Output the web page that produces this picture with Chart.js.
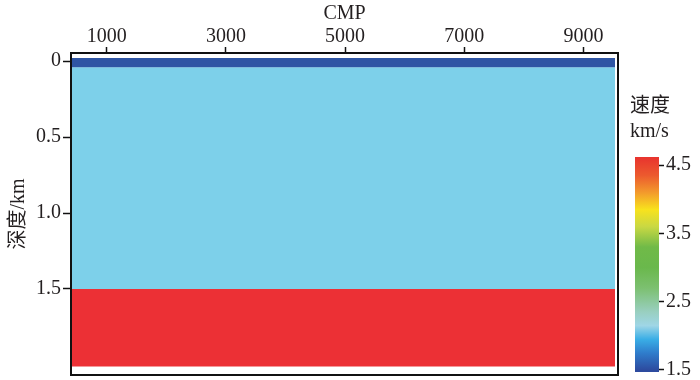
<!DOCTYPE html>
<html>
<head>
<meta charset="utf-8">
<script src="https://cdn.jsdelivr.net/npm/chart.js@4/dist/chart.umd.min.js"></script>
<style>
  html, body { margin: 0; padding: 0; background: #ffffff; }
  body { width: 700px; height: 380px; position: relative; overflow: hidden; }
  #mainBox { position: absolute; left: 0; top: 0; width: 630px; height: 380px; }
  #barBox { position: absolute; left: 630px; top: 88px; width: 70px; height: 292px; }
</style>
</head>
<body>
<div id="mainBox"><canvas id="main"></canvas></div>
<div id="barBox"><canvas id="cbar"></canvas></div>
<script>
// ---------------- data ----------------
const cmpTicks = [1000, 3000, 5000, 7000, 9000];
const cmpTickLabels = ['1000', '3000', '5000', '7000', '9000'];
const cmpModelExtent = [400, 9530];            // CMP range covered by the model
const layerBoundaries = [-0.02, 0.04, 1.5, 2.01]; // depth (km) of layer tops / last bottom
const layerVelocities = [1.6, 2.2, 4.6];         // km/s for each layer
const depthTicks = [0, 0.5, 1.0, 1.5];
const depthTickLabels = ['0', '0.5', '1.0', '1.5'];
const velocityTicks = [1.5, 2.5, 3.5, 4.5];
const velocityTickLabels = ['1.5', '2.5', '3.5', '4.5'];
const colorbarRange = [1.47, 4.62];
const colormapValues = [1.5, 1.75, 1.95, 2.15, 2.35, 2.7, 3.0, 3.3, 3.6, 3.85, 4.1, 4.35, 4.62];

// ---------------- styles ----------------
const colormapColors = ['#2d4b9f', '#2f7dcc', '#3aaee6', '#9fd6e6', '#99cfc0', '#7cc070', '#6ab84c',
                        '#70ba48', '#c9d843', '#f8e21d', '#f39a2c', '#ec5a2e', '#e8332e'];
const layerColors = ['#2f55a4', '#7dd0ea', '#ec3035'];
const FONT = "'Liberation Serif', 'Noto Sans CJK SC', serif";
const TEXT = '#231f20';

const framePlugin = {
  id: 'frame',
  afterDatasetsDraw(chart) {
    const a = chart.chartArea, c = chart.ctx;
    c.save();
    c.strokeStyle = '#111';
    c.lineWidth = 2;
    c.strokeRect(a.left, a.top, a.right - a.left, a.bottom - a.top);
    c.restore();
  }
};

function zeroPad(s) { s.paddingTop = 0; s.paddingBottom = 0; s.paddingLeft = 0; s.paddingRight = 0; }

// ---------------- main section chart ----------------
const datasets = layerBoundaries.map((b, i) => ({
  data: [{x: cmpModelExtent[0], y: b}, {x: cmpModelExtent[1], y: b}],
  fill: i < layerVelocities.length ? '+1' : false,
  backgroundColor: layerColors[i] || 'transparent',
  borderWidth: 0,
  pointRadius: 0
}));

new Chart(document.getElementById('main'), {
  type: 'line',
  data: { datasets },
  options: {
    responsive: true,
    maintainAspectRatio: false,
    animation: false,
    layout: { padding: { left: 0, top: 0, right: 12, bottom: 5 } },
    plugins: { legend: { display: false }, tooltip: { enabled: false } },
    scales: {
      x: {
        type: 'linear',
        position: 'top',
        min: 400, max: 9580,
        afterBuildTicks: s => { s.ticks = cmpTicks.map(v => ({ value: v })); },
        ticks: { font: { family: FONT, size: 20 }, color: TEXT, padding: -2, maxRotation: 0,
                 callback: (v, i) => cmpTickLabels[i] },
        grid: { drawOnChartArea: false, tickLength: 6, color: '#111', tickWidth: 1.5 },
        border: { display: false },
        title: { display: true, text: 'CMP', font: { family: FONT, size: 20 }, color: TEXT, padding: { top: 2, bottom: 0 } },
        afterFit: s => { s.height = 53; zeroPad(s); }
      },
      y: {
        type: 'linear',
        reverse: true,
        min: -0.053, max: 2.066,
        afterBuildTicks: s => { s.ticks = depthTicks.map(v => ({ value: v })); },
        ticks: {
          font: { family: FONT, size: 20 }, color: TEXT, padding: 2,
          callback: (v, i) => depthTickLabels[i]
        },
        grid: { drawOnChartArea: false, tickLength: 8, color: '#111', tickWidth: 1.5 },
        border: { display: false },
        title: { display: true, text: '深度/km', font: { family: FONT, size: 20 }, color: TEXT, padding: { top: 7, bottom: 0 } },
        afterFit: s => { s.width = 71; zeroPad(s); }
      }
    }
  },
  plugins: [framePlugin]
});

// ---------------- colorbar ----------------
function colorbarGradient(context) {
  const chart = context.chart;
  const ys = chart.scales.y;
  if (!chart.chartArea || !ys) return colormapColors[0];
  const y0 = ys.getPixelForValue(colorbarRange[0]);
  const y1 = ys.getPixelForValue(colorbarRange[1]);
  const g = chart.ctx.createLinearGradient(0, y0, 0, y1);
  colormapValues.forEach((v, i) => {
    const f = Math.min(1, Math.max(0, (v - colorbarRange[0]) / (colorbarRange[1] - colorbarRange[0])));
    g.addColorStop(f, colormapColors[i]);
  });
  return g;
}

new Chart(document.getElementById('cbar'), {
  type: 'bar',
  data: {
    labels: [''],
    datasets: [{
      data: [colorbarRange],
      yAxisID: 'y',
      xAxisID: 'x',
      backgroundColor: colorbarGradient,
      borderWidth: 0,
      barPercentage: 1,
      categoryPercentage: 1
    }]
  },
  options: {
    responsive: true,
    maintainAspectRatio: false,
    animation: false,
    layout: { padding: { left: 0, top: 0, right: 0, bottom: 8 } },
    plugins: {
      legend: { display: false },
      tooltip: { enabled: false },
      title: {
        display: true, text: ['速度', 'km/s'], align: 'start', color: TEXT,
        font: { family: FONT, size: 20, weight: 'normal', lineHeight: 1.25 },
        padding: { top: 6, bottom: 13 }
      }
    },
    scales: {
      x: { display: false },
      yl: {
        position: 'left', display: true, min: 0, max: 1,
        ticks: { display: false }, grid: { display: false }, border: { display: false },
        afterFit: s => { s.width = 5; zeroPad(s); }
      },
      y: {
        position: 'right',
        min: colorbarRange[0], max: colorbarRange[1],
        afterBuildTicks: s => { s.ticks = velocityTicks.map(v => ({ value: v })); },
        ticks: { font: { family: FONT, size: 20 }, color: TEXT, padding: 2, callback: (v, i) => velocityTickLabels[i] },
        grid: { drawOnChartArea: false, tickLength: 5, color: '#111', tickWidth: 1.5 },
        border: { display: false },
        afterFit: s => { s.width = 41; zeroPad(s); }
      }
    }
  }
});
</script>
</body>
</html>
